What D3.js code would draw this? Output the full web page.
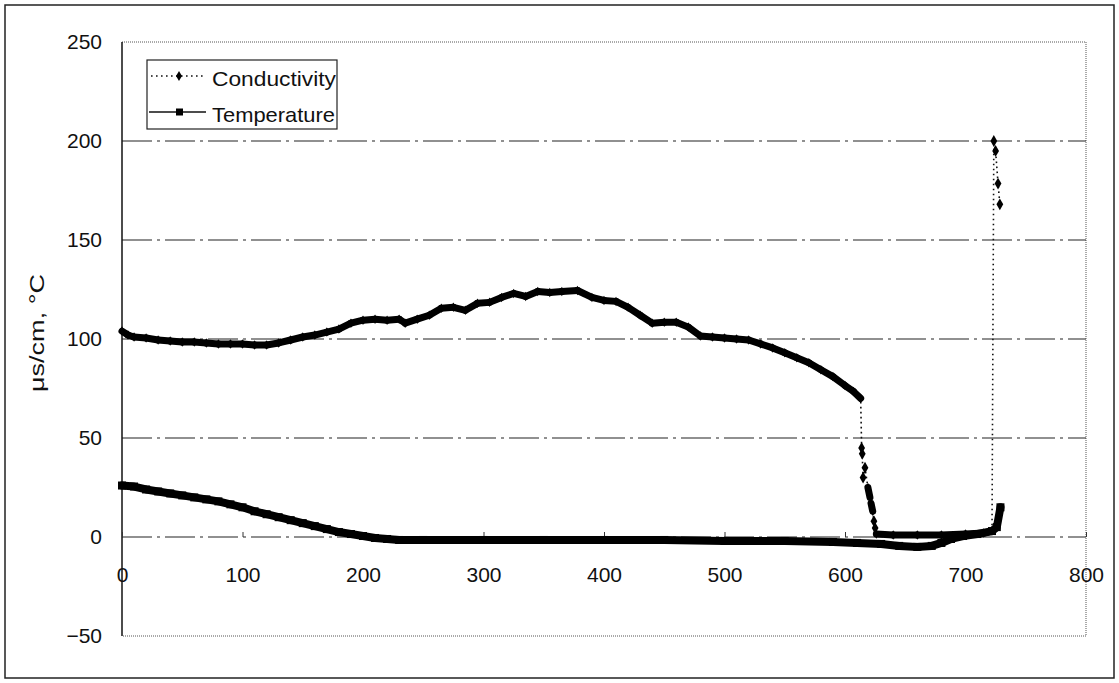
<!DOCTYPE html>
<html><head><meta charset="utf-8">
<script src="https://cdn.jsdelivr.net/npm/d3@7"></script>
<style>body{margin:0;background:#fff;} text{font-family:"Liberation Sans",Arial,sans-serif;fill:#111;}</style>
</head><body><svg id="c" width="1119" height="683"></svg>
<script>
const xTicks=[0,100,200,300,400,500,600,700,800];
const yTicks=[-50,0,50,100,150,200,250];
const condX=[0,5,10,20,30,40,50,60,70,80,90,100,110,120,130,140,150,160,170,180,190,200,210,220,230,235,245,255,265,275,285,295,305,315,325,335,345,355,365,378,390,400,410,420,430,440,450,460,470,480,490,500,510,520,530,540,550,560,570,580,590,600,607,613,613.8,614.3,615,616.6,619,620.7,621.6,623,624,625,626,640,660,680,700,715,722,723.5,725,727,728.5];
const condY=[104,102,101,100.5,99.5,99,98.5,98.5,98,97.5,97.5,97.5,97,97,98,99.5,101,102,103.5,105,108,109.5,110,109.5,110,108,110,112,115.5,116,114.5,118,118.5,121,123,121.5,124,123.5,124,124.5,121,119.5,119,116,112,108,108.5,108.5,106,101.5,101,100.5,100,99.5,97.5,95.5,93,90.5,88,84.5,81,76.5,73.5,70,45,42,30,35,25,20,17,13,8,4.5,1.5,1,1,1,1.5,2,3,200,195,178.5,168];
const tempX=[0,10,20,30,40,50,60,70,80,90,100,110,120,130,140,150,160,170,180,190,200,210,220,230,250,300,350,400,450,500,550,590,610,630,645,660,672,680,688,698,710,722,726,729];
const tempY=[26,25.5,24,23,22,21,20,19,18,16.5,15,13,11.5,10,8.5,7,5.5,4,2.5,1.5,0.5,-0.5,-1,-1.5,-1.5,-1.5,-1.5,-1.5,-1.5,-2,-2,-2.5,-3,-3.5,-4.5,-5,-4.5,-3,-1,0.5,1.5,3,5,15];
const seriesNames=["Conductivity","Temperature"];
const yLabel="μs/cm, °C";

const svg=d3.select("#c");
const L=122,R=1086,T=42,B=636;
const x=d3.scaleLinear().domain([0,800]).range([L,R]);
const y=d3.scaleLinear().domain([-50,250]).range([B,T]);

svg.append("rect").attr("x",5).attr("y",5).attr("width",1109).attr("height",673)
  .attr("fill","none").attr("stroke","#222").attr("stroke-width",1.5);

svg.append("path").attr("d",`M${L},${T}H${R}V${B}H${L}`).attr("fill","none")
  .attr("stroke","#555").attr("stroke-width",1).attr("stroke-dasharray","1,1");

svg.append("g").selectAll("line").data(yTicks.filter(v=>v>-50&&v<250)).join("line")
  .attr("x1",L).attr("x2",R).attr("y1",d=>y(d)).attr("y2",d=>y(d))
  .attr("stroke","#222").attr("stroke-width",1.2).attr("stroke-dasharray","30,5,3,5");

svg.append("line").attr("x1",L).attr("x2",L).attr("y1",T).attr("y2",B).attr("stroke","#111").attr("stroke-width",1.5);

const yAxis=d3.axisLeft(y).tickValues(yTicks).tickSize(0).tickPadding(20)
  .tickFormat(d=>d<0?"\u2212"+Math.abs(d):d);
const gy=svg.append("g").attr("transform",`translate(${L},0)`).call(yAxis);
gy.select(".domain").remove();
gy.selectAll("text").attr("font-size",21).attr("font-family","Liberation Sans, Arial, sans-serif").attr("fill","#111");

const xAxis=d3.axisTop(x).tickValues(xTicks).tickSize(5).tickFormat(d3.format("d"));
const gx=svg.append("g").attr("transform",`translate(0,${y(0)})`).call(xAxis);
gx.select(".domain").remove();
gx.selectAll("line").attr("stroke","#333");
gx.selectAll("text").attr("font-size",21).attr("font-family","Liberation Sans, Arial, sans-serif").attr("fill","#111")
  .attr("dy",0).attr("y",45);

svg.append("text").attr("transform","translate(44,333) rotate(-90)").attr("text-anchor","middle")
  .attr("font-size",21).attr("textLength",118).attr("lengthAdjust","spacingAndGlyphs").text(yLabel);

const cond=condX.map((v,i)=>[v,condY[i]]);
const line=d3.line().x(d=>x(d[0])).y(d=>y(d[1]));
svg.append("path").datum(cond).attr("d",line).attr("fill","none").attr("stroke","#111")
  .attr("stroke-width",1.6).attr("stroke-dasharray","1.6,3.4");
const condSegs=[];
const dense=new Set();
for(let i=1;i<cond.length;i++){
  const a=cond[i-1],b=cond[i];
  if(Math.abs((b[1]-a[1])/(b[0]-a[0]))<3){ condSegs.push([a,b]); dense.add(i-1); dense.add(i); }
}
svg.append("g").selectAll("path").data(condSegs).join("path").attr("d",line)
  .attr("fill","none").attr("stroke","#000").attr("stroke-width",7).attr("stroke-linecap","round");
svg.append("g").selectAll("path").data(cond).join("path")
  .attr("d",(d,i)=>d3.symbol().type(d3.symbolDiamond).size(dense.has(i)?26:40)())
  .attr("transform",d=>`translate(${x(d[0])},${y(d[1])})`).attr("fill","#000");

const temp=tempX.map((v,i)=>[v,tempY[i]]);
svg.append("path").datum(temp).attr("d",line).attr("fill","none").attr("stroke","#000")
  .attr("stroke-width",8).attr("stroke-linejoin","round").attr("stroke-linecap","round");
svg.append("g").selectAll("rect").data(temp).join("rect")
  .attr("x",d=>x(d[0])-4).attr("y",d=>y(d[1])-4).attr("width",8).attr("height",8).attr("fill","#000");

const lg=svg.append("g");
lg.append("rect").attr("x",147).attr("y",60).attr("width",190).attr("height",69)
  .attr("fill","#fff").attr("stroke","#222").attr("stroke-width",1.2);
lg.append("line").attr("x1",151).attr("x2",206).attr("y1",76).attr("y2",76)
  .attr("stroke","#111").attr("stroke-width",1.6).attr("stroke-dasharray","1.6,3.4");
lg.append("path").attr("d",d3.symbol().type(d3.symbolDiamond).size(30)).attr("transform","translate(179,76)").attr("fill","#000");
lg.append("line").attr("x1",149).attr("x2",206).attr("y1",112).attr("y2",112)
  .attr("stroke","#111").attr("stroke-width",1.5);
lg.append("rect").attr("x",176).attr("y",108.5).attr("width",7).attr("height",7).attr("fill","#000");
lg.selectAll("text.l").data(seriesNames).join("text").attr("class","l")
  .attr("x",212).attr("y",(d,i)=>86+i*35.5).attr("font-size",21).attr("textLength",(d,i)=>i?123:124)
  .attr("lengthAdjust","spacingAndGlyphs").text(d=>d);
</script></body></html>
